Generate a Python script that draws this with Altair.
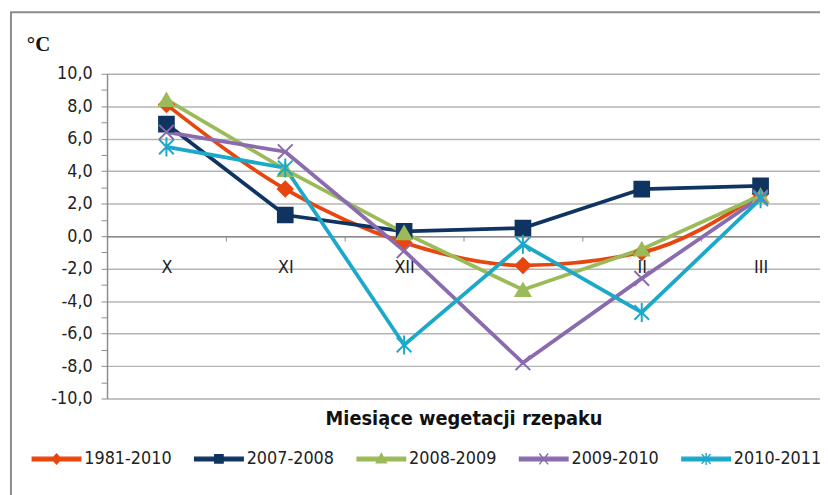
import altair as alt
import pandas as pd

months = ["X", "XI", "XII", "I", "II", "III"]
series_names = ["1981-2010", "2007-2008", "2008-2009", "2009-2010", "2010-2011"]
s_1981_2010 = [8.1, 2.9, -0.4, -1.8, -1.0, 2.6]
s_2007_2008 = [6.9, 1.3, 0.3, 0.5, 2.9, 3.1]
s_2008_2009 = [8.4, 4.1, 0.2, -3.3, -0.8, 2.5]
s_2009_2010 = [6.4, 5.2, -0.9, -7.8, -2.6, 2.4]
s_2010_2011 = [5.5, 4.2, -6.7, -0.5, -4.7, 2.3]
colors = ["#E8460F", "#0F3461", "#9BBB59", "#8A6BAE", "#1CA9C9"]
unit_label = ["°C"]

all_series = [s_1981_2010, s_2007_2008, s_2008_2009, s_2009_2010, s_2010_2011]
rows = []
for name, vals in zip(series_names, all_series):
    for m, v in zip(months, vals):
        rows.append({"month": m, "series": name, "value": v})
df = pd.DataFrame(rows)

FONT = "Liberation Sans Narrow, DejaVu Sans Condensed, sans-serif"
X_PATH = "M-1,-1L1,1M-1,1L1,-1"
AST_PATH = "M-1,-1L1,1M-1,1L1,-1M0,-1.3L0,1.3"
marker_shapes = ["diamond", "square", "triangle-up", X_PATH, AST_PATH]

bar = "M-2.45,-0.18H2.45V0.18H-2.45Z"
legend_shapes = [
    bar + "M0,-0.5L0.45,0L0,0.5L-0.45,0Z",
    bar + "M-0.42,-0.42H0.42V0.42H-0.42Z",
    bar + "M0,-0.55L0.5,0.4H-0.5Z",
    bar + "M-0.45,-0.55L0.45,0.55M-0.45,0.55L0.45,-0.55",
    bar + "M-0.45,-0.5L0.45,0.5M-0.45,0.5L0.45,-0.5M0,-0.6L0,0.6",
]

x_enc = alt.X(
    "month:N",
    sort=months,
    scale=alt.Scale(type="band", paddingInner=0, paddingOuter=0),
    axis=alt.Axis(
        title="Miesiące wegetacji rzepaku",
        offset=-164,
        tickBand="extent",
        tickSize=5,
        tickColor="#8c8c8c",
        domainColor="#8c8c8c",
        domainWidth=1.5,
        labelAngle=0,
        labelFont=FONT,
        labelFontSize=18,
        labelColor="#222222",
        labelBaseline="top",
        labelPadding=18,
        grid=False,
        titleFont=FONT,
        titleFontSize=20,
        titleFontWeight="bold",
        titleColor="#111111",
        titleX=360,
        titleY=184,
        titleBaseline="middle",
        titleAlign="center",
    ),
)
y_enc = alt.Y(
    "value:Q",
    scale=alt.Scale(domain=[-10, 10], nice=False, zero=False),
    axis=alt.Axis(
        title=None,
        values=list(range(-10, 11)),
        labelExpr="datum.value % 2 ? '' : (datum.value < 0 ? '-' : '') + replace(format(abs(datum.value), '.1f'), '.', ',')",
        labelFont=FONT,
        labelFontSize=18,
        labelColor="#222222",
        labelPadding=9,
        tickSize=6,
        tickColor="#8c8c8c",
        domainColor="#8c8c8c",
        domainWidth=1.5,
        gridColor="#b4b4b4",
        gridWidth=1.5,
        gridOpacity={"condition": {"test": "datum.value % 2 !== 0", "value": 0}, "value": 1},
    ),
)

base = alt.Chart(df)

color_scale = alt.Scale(domain=series_names, range=colors)

line_smooth = base.transform_filter(alt.datum.series == "1981-2010").mark_line(
    strokeWidth=3.8, interpolate="monotone"
).encode(
    x=x_enc, y=y_enc,
    color=alt.Color("series:N", scale=color_scale, legend=None),
)
line_rest = base.transform_filter(alt.datum.series != "1981-2010").mark_line(
    strokeWidth=3.8
).encode(
    x=x_enc, y=y_enc,
    color=alt.Color("series:N", scale=color_scale, legend=None),
    detail="series:N",
)

points = base.mark_point(filled=True, size=220, strokeWidth=2, opacity=1).encode(
    x=x_enc, y=y_enc,
    fill=alt.Fill("series:N", scale=alt.Scale(domain=series_names, range=colors), legend=None),
    stroke=alt.Stroke("series:N", scale=alt.Scale(domain=series_names, range=colors), legend=None),
    shape=alt.Shape("series:N", scale=alt.Scale(domain=series_names, range=marker_shapes), legend=None),
)

leg = alt.Legend(
    title=None,
    orient="none",
    legendX=-62,
    legendY=378,
    direction="horizontal",
    columns=5,
    symbolSize=400,
    symbolStrokeWidth=1.4,
    symbolOpacity=1,
    labelFont=FONT,
    labelFontSize=18,
    labelColor="#222222",
    labelOffset=17,
    columnPadding=19,
    labelLimit=200,
)
legend_layer = base.mark_point(filled=True, opacity=0).encode(
    x=x_enc, y=y_enc,
    fill=alt.Fill("series:N", scale=alt.Scale(domain=series_names, range=colors), legend=leg),
    stroke=alt.Stroke("series:N", scale=alt.Scale(domain=series_names, range=colors), legend=leg),
    shape=alt.Shape("series:N", scale=alt.Scale(domain=series_names, range=legend_shapes), legend=leg),
)

frame = alt.Chart(alt.Data(values=[{"a": 1}])).mark_rect(
    fill="transparent", stroke="#8c8c8c", strokeWidth=2
).encode(
    x=alt.value(-97), x2=alt.value(740), y=alt.value(-62), y2=alt.value(520)
)

unit_text = alt.Chart(alt.Data(values=[{"t": t} for t in unit_label])).mark_text(
    font="Liberation Serif, DejaVu Serif, serif",
    fontSize=21,
    fontWeight="bold",
    color="#111111",
    align="left",
    baseline="middle",
).encode(
    text="t:N", x=alt.value(-81), y=alt.value(-29)
)

chart = alt.layer(
    frame, unit_text, line_smooth, line_rest, points, legend_layer
).resolve_scale(
    shape="independent", fill="independent", stroke="independent"
).properties(
    width=720,
    height=328,
    padding={"left": 100, "top": 64, "right": 0, "bottom": 95},
    autosize=alt.AutoSizeParams(type="none"),
).configure_view(stroke=None).configure(background="white")

chart.save("out.html", embed_options={"renderer": "svg", "actions": False})
